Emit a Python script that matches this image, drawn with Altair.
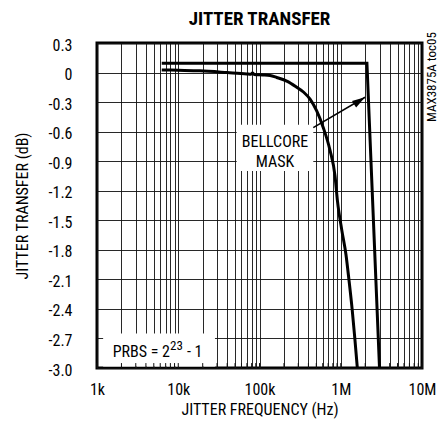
import altair as alt
import pandas as pd

FONT = "Liberation Sans Narrow, Arial Narrow, Roboto Condensed, DejaVu Sans Condensed, Liberation Sans, sans-serif"

# ---------------- data ----------------
title_text = ["JITTER TRANSFER"]
x_title = "JITTER FREQUENCY (Hz)"
y_title = "JITTER TRANSFER (dB)"
side_note = ["MAX3875A toc05"]

# measured jitter transfer curve
meas_freq = [6260, 10000, 18500, 40000, 70000, 78000, 82000, 86000, 110000, 135000,
             163000, 220000, 287000, 350000, 419000, 506000, 610000, 738000, 850000,
             910000, 1030000, 1160000, 1260000, 1380000, 1490000, 1600000]
meas_db = [0.027, 0.023, 0.017, 0.0, -0.014, -0.018, -0.004, -0.02, -0.024, -0.03,
           -0.05, -0.09, -0.15, -0.2, -0.27, -0.39, -0.56, -0.79, -1.05,
           -1.3, -1.6, -1.85, -2.1, -2.4, -2.7, -3.0]

# Bellcore mask
mask_freq = [6260, 2100000, 3000000]
mask_db = [0.095, 0.095, -3.0]

# axis ticks
decades = [1000, 10000, 100000, 1000000, 10000000]
decade_labels = ["1k", "10k", "100k", "1M", "10M"]
grid_x = [m * 10 ** e for e in range(3, 7) for m in range(1, 10)] + [10 ** 7]
y_ticks = [0.3, 0.0, -0.3, -0.6, -0.9, -1.2, -1.5, -1.8, -2.1, -2.4, -2.7, -3.0]
y_labels = ["0.3", "0", "-0.3", "-0.6", "-0.9", "-1.2", "-1.5", "-1.8", "-2.1", "-2.4", "-2.7", "-3.0"]

# annotation boxes (white backgrounds)
box_x1 = [52400, 1190]
box_x2 = [459000, 28300]
box_y1 = [-0.53, -2.65]
box_y2 = [-1.0, -2.985]

# annotation texts
bell_text = ["BELLCORE", "MASK"]
bell_freq = [155000, 155000]
bell_db = [-0.755, -0.96]

prbs_main = ["PRBS = 2"]
prbs_sup = ["23"]
prbs_tail = ["- 1"]
prbs_main_freq = [7910]
prbs_sup_freq = [7910]
prbs_tail_freq = [12800]
prbs_db = [-2.89]
prbs_sup_db = [-2.815]

# arrow
arrow_freq = [459000, 1990000]
arrow_db = [-0.56, -0.251]

# ---------------- chart ----------------
x_scale = alt.Scale(type="log", domain=[1000, 10000000], nice=False)
y_scale = alt.Scale(domain=[-3.0, 0.3], nice=False, zero=False)

x_expr = "''"
for v, l in reversed(list(zip(decades, decade_labels))):
    x_expr = f"datum.value == {v} ? '{l}' : ({x_expr})"
y_expr = "''"
for v, l in reversed(list(zip(y_ticks, y_labels))):
    y_expr = f"abs(datum.value - ({v})) < 0.001 ? '{l}' : ({y_expr})"

W = 325
H = 325

x_axis = alt.Axis(values=grid_x, labelExpr=x_expr, grid=True, ticks=False, tickSize=0,
                  domain=False, labelFont=FONT, labelFontSize=16, labelColor="black",
                  labelPadding=21, labelBaseline="middle", labelFlush=False, labelOverlap=False,
                  title=x_title, titleFont=FONT, titleFontSize=16, titleFontWeight="normal",
                  titleColor="black", titleX=W / 2, titleY=41, titleBaseline="middle",
                  titleAlign="center", gridColor="#111", gridWidth=1, gridOpacity=0.9)
y_axis = alt.Axis(values=y_ticks, labelExpr=y_expr, grid=True, ticks=False, tickSize=0,
                  domain=False, labelFont=FONT, labelFontSize=16, labelColor="black",
                  labelPadding=25, labelBaseline="middle", labelFlush=False, labelOverlap=False,
                  labelOffset=2,
                  title=y_title, titleFont=FONT, titleFontSize=16, titleFontWeight="normal",
                  titleColor="black", titleX=-74.5, titleY=H / 2, titleAngle=270,
                  titleBaseline="middle", titleAlign="center",
                  gridColor="#111", gridWidth=1, gridOpacity=0.9)


def X(field):
    return alt.X(field, type="quantitative", scale=x_scale, axis=x_axis)


def Y(field):
    return alt.Y(field, type="quantitative", scale=y_scale, axis=y_axis)


boxes = pd.DataFrame({"x1": box_x1, "x2": box_x2, "y1": box_y1, "y2": box_y2})
box_layer = alt.Chart(boxes).mark_rect(fill="white", opacity=1).encode(
    x=X("x1"), x2="x2", y=Y("y1"), y2="y2")

ticks_df = pd.DataFrame({"f": grid_x, "y1": [-3.0] * len(grid_x), "y2": [-2.95] * len(grid_x)})
tick_layer = alt.Chart(ticks_df).mark_rule(color="#111", strokeWidth=1).encode(
    x=X("f"), y=Y("y1"), y2="y2")

meas = pd.DataFrame({"f": meas_freq, "db": meas_db})
meas_layer = alt.Chart(meas).mark_line(color="black", strokeWidth=3, interpolate="monotone").encode(
    x=X("f"), y=Y("db"))

mask = pd.DataFrame({"f": mask_freq, "db": mask_db})
mask_layer = alt.Chart(mask).mark_line(color="black", strokeWidth=3, strokeJoin="miter").encode(
    x=X("f"), y=Y("db"))

bell = pd.DataFrame({"t": bell_text, "f": bell_freq, "db": bell_db})
bell_layer = alt.Chart(bell).mark_text(font=FONT, fontSize=16, color="black", align="center",
                                       baseline="alphabetic").encode(
    x=X("f"), y=Y("db"), text="t:N")

prbs1 = pd.DataFrame({"t": prbs_main, "f": prbs_main_freq, "db": prbs_db})
prbs1_layer = alt.Chart(prbs1).mark_text(font=FONT, fontSize=16, color="black", align="right",
                                         baseline="alphabetic").encode(
    x=X("f"), y=Y("db"), text="t:N")
prbs2 = pd.DataFrame({"t": prbs_sup, "f": prbs_sup_freq, "db": prbs_sup_db})
prbs2_layer = alt.Chart(prbs2).mark_text(font=FONT, fontSize=13, color="black", align="left",
                                         baseline="alphabetic").encode(
    x=X("f"), y=Y("db"), text="t:N")
prbs3 = pd.DataFrame({"t": prbs_tail, "f": prbs_tail_freq, "db": prbs_db})
prbs3_layer = alt.Chart(prbs3).mark_text(font=FONT, fontSize=16, color="black", align="left",
                                         baseline="alphabetic").encode(
    x=X("f"), y=Y("db"), text="t:N")

arrow = pd.DataFrame({"f": arrow_freq, "db": arrow_db})
arrow_line = alt.Chart(arrow).mark_line(color="black", strokeWidth=1.5).encode(
    x=X("f"), y=Y("db"))
arrow_head = alt.Chart(arrow.iloc[[1]]).mark_point(
    shape="M0,0 L-0.6,2 L0.6,2 Z", filled=True, size=169, angle=57.7,
    color="black", opacity=1, strokeWidth=0).encode(x=X("f"), y=Y("db"))

title_layer = alt.Chart(pd.DataFrame({"t": title_text})).mark_text(
    font=FONT, fontSize=19, fontWeight="bold", color="black", align="center",
    baseline="alphabetic").encode(x=alt.value(W / 2), y=alt.value(-18), text="t:N")

side_layer = alt.Chart(pd.DataFrame({"t": side_note})).mark_text(
    font=FONT, fontSize=13, color="black", align="center", baseline="middle",
    angle=270).encode(x=alt.value(335), y=alt.value(34), text="t:N")

chart = alt.layer(
    box_layer, tick_layer, mask_layer, meas_layer, arrow_line, arrow_head,
    bell_layer, prbs1_layer, prbs2_layer, prbs3_layer, title_layer, side_layer
).properties(
    width=W, height=H,
    padding={"left": 89, "top": 35, "right": 16, "bottom": 53},
    autosize=alt.AutoSizeParams(type="none"),
    background="white",
).configure_view(stroke="black", strokeWidth=3)

chart.save("out.html", embed_options={"renderer": "svg", "actions": False})
